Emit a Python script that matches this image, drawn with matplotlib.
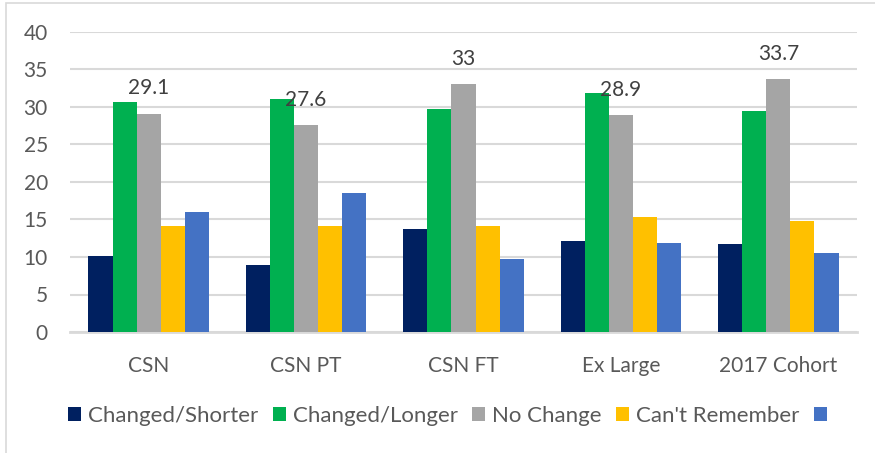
import matplotlib
matplotlib.use("Agg")
import matplotlib.pyplot as plt
import numpy as np
from matplotlib.patches import Rectangle, Patch

categories = ["CSN", "CSN PT", "CSN FT", "Ex Large", "2017 Cohort"]
series_names = ["Changed/Shorter", "Changed/Longer", "No Change", "Can't Remember", ""]
changed_shorter = [10.2, 8.9, 13.7, 12.2, 11.7]
changed_longer = [30.6, 31.0, 29.7, 31.8, 29.4]
no_change = [29.1, 27.6, 33.0, 28.9, 33.7]
cant_remember = [14.2, 14.2, 14.1, 15.3, 14.8]
unnamed = [16.0, 18.5, 9.7, 11.9, 10.5]
yticks = [0, 5, 10, 15, 20, 25, 30, 35, 40]

colors = ["#002060", "#00B050", "#A5A5A5", "#FFC000", "#4472C4"]
series = [changed_shorter, changed_longer, no_change, cant_remember, unnamed]

plt.rcParams['font.family'] = ['Lato', 'DejaVu Sans']

fig = plt.figure(figsize=(8.75, 4.53), dpi=100)
fig.patches.append(Rectangle((6/875, -10/453), 900/875, 460/453,
                             transform=fig.transFigure, fill=False,
                             edgecolor="#d9d9d9", linewidth=1.2))
ax = fig.add_axes([70/875, 1 - 332/453, 787/875, 300/453])

x = np.arange(len(categories))
w = 0.153
for i, (vals, c) in enumerate(zip(series, colors)):
    bars = ax.bar(x + (i - 2) * w, vals, width=w, color=c, zorder=3)
    if i == 2:
        for b, v in zip(bars, vals):
            ax.annotate(f"{v:g}", (b.get_x() + b.get_width() / 2, v),
                        xytext=(0, 11), textcoords="offset points",
                        ha="center", va="bottom", fontsize=15, color="#404040")

ax.set_xlim(-0.5, len(categories) - 0.5)
ax.set_ylim(0, 40)
ax.set_yticks(yticks)
ax.yaxis.grid(True, color="#d9d9d9", linewidth=1.5, zorder=0)
ax.set_axisbelow(True)
for s in ["top", "right", "left"]:
    ax.spines[s].set_visible(False)
ax.spines["bottom"].set_color("#d9d9d9")
ax.spines["bottom"].set_linewidth(2)
ax.tick_params(axis="both", length=0, labelsize=15, labelcolor="#595959")
ax.tick_params(axis="y", pad=16)
ax.tick_params(axis="x", pad=17)
ax.set_xticks(x)
ax.set_xticklabels(categories)

handles = [Patch(facecolor=c, edgecolor="none") for c in colors]
fig.legend(handles, series_names, loc="center left", bbox_to_anchor=(68/875, 1 - 416/453),
           ncol=5, frameon=False, fontsize=16, handlelength=0.6, handleheight=0.6,
           handletextpad=0.3, columnspacing=0.65, borderpad=0, borderaxespad=0,
           labelcolor="#595959")

fig.savefig("out.png", dpi=100)
